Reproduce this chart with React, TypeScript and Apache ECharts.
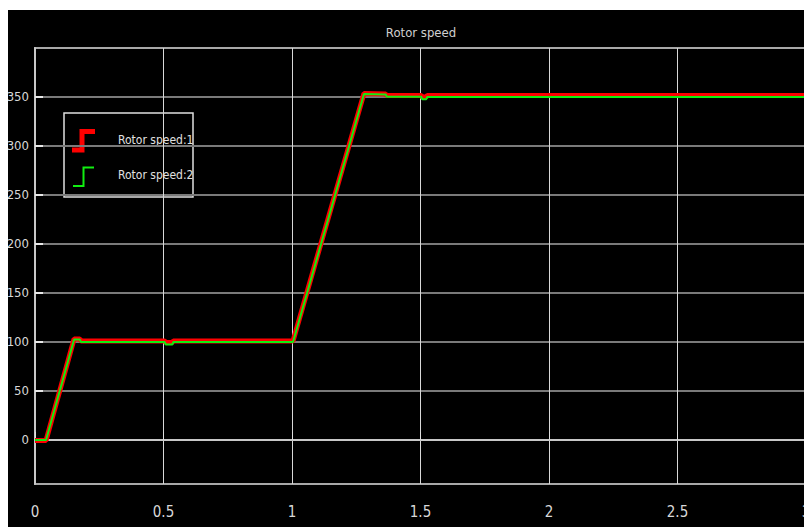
import React, { useEffect, useRef } from "react";
import * as echarts from "echarts";

// time (s)
const timeS = [0, 0.043, 0.152, 0.175, 0.178, 0.505, 0.508, 0.535, 0.538, 1.004, 1.28, 1.365, 1.368, 1.503, 1.507, 1.522, 1.526, 3.0];
// Rotor speed:1 (red)
const speed1 = [-0.5, -0.5, 103, 103, 101, 101, 99.5, 99.5, 101, 101, 353.5, 353, 351.5, 351.5, 350, 350, 351.5, 351.5];
// Rotor speed:2 (green)
const speed2 = [0, 0, 102.5, 102.5, 100, 100, 97.5, 97.5, 100, 100, 353, 352.5, 350.3, 350.3, 347.6, 347.6, 350, 350];

const yTickValues = [0, 50, 100, 150, 200, 250, 300, 350];
const seriesNames = ["Rotor speed:1", "Rotor speed:2"];
const titleText = "Rotor speed";

const FONT = "'Liberation Sans Narrow', 'Arial Narrow', 'DejaVu Sans Condensed', sans-serif";

export default function App() {
  const ref = useRef<HTMLDivElement>(null);
  useEffect(() => {
    if (!ref.current) return;
    const chart = echarts.init(ref.current, undefined, { renderer: "svg" });
    const d1 = timeS.map((t, i) => [t, speed1[i]]);
    const d2 = timeS.map((t, i) => [t, speed2[i]]);
    chart.setOption({
      animation: false,
      backgroundColor: "#000",
      grid: {
        left: 27,
        top: 38,
        bottom: 43,
        right: -2,
        outerBoundsMode: "none",
        containLabel: false,
        show: true,
        borderColor: "#a8a8a8",
        borderWidth: 2,
        backgroundColor: "#000",
      },
      xAxis: {
        type: "value",
        min: 0,
        max: 3,
        interval: 0.5,
        axisLine: { show: true, lineStyle: { color: "#c8c8c8", width: 2 } },
        axisTick: { show: true, inside: true, length: 8, lineStyle: { color: "#e0e0e0", width: 1 } },
        axisLabel: { color: "#d8d8d8", fontFamily: FONT, fontSize: 15, margin: 20 },
        splitLine: { show: true, lineStyle: { color: "#d8d8d8", width: 1 } },
      },
      yAxis: {
        type: "value",
        min: -45,
        max: 400,
        axisLine: { show: true, lineStyle: { color: "#c8c8c8", width: 2 } },
        axisTick: {
          show: true,
          inside: true,
          length: 8,
          customValues: yTickValues,
          lineStyle: { color: "#e8e8e8", width: 2 },
        },
        axisLabel: {
          customValues: yTickValues,
          color: "#d8d8d8",
          fontFamily: FONT,
          fontSize: 13,
          margin: 6,
        },
        splitLine: { show: true, lineStyle: { color: "#7a7a7a", width: 2 } },
      },
      series: [
        {
          name: seriesNames[0],
          type: "line",
          data: d1,
          showSymbol: false,
          lineStyle: { color: "#ff0000", width: 5 },
          itemStyle: { color: "#ff0000" },
          z: 2,
        },
        {
          name: seriesNames[1],
          type: "line",
          data: d2,
          showSymbol: false,
          lineStyle: { color: "#11ee11", width: 2 },
          itemStyle: { color: "#11ee11" },
          z: 3,
        },
      ],
      graphic: [
        {
          type: "text",
          x: 413,
          y: 22,
          style: {
            text: titleText,
            fill: "#d0d0d0",
            font: `13px ${FONT}`,
            textAlign: "center",
            textVerticalAlign: "middle",
          },
        },
        {
          type: "group",
          z: 100,
          children: [
            {
              type: "rect",
              shape: { x: 56, y: 103, width: 129, height: 84 },
              style: { fill: "#000", stroke: "#e0e0e0", lineWidth: 1.5 },
            },
            {
              type: "polyline",
              shape: { points: [[64, 140], [74, 140], [74, 121.5], [87, 121.5]] },
              style: { stroke: "#ff0000", lineWidth: 5, fill: null, lineJoin: "miter" },
            },
            {
              type: "polyline",
              shape: { points: [[65, 176], [75.5, 176], [75.5, 157.5], [86, 157.5]] },
              style: { stroke: "#11ee11", lineWidth: 2, fill: null, lineJoin: "miter" },
            },
            {
              type: "text",
              x: 110,
              y: 130,
              style: {
                text: seriesNames[0],
                fill: "#e0e0e0",
                font: `12px ${FONT}`,
                textVerticalAlign: "middle",
              },
            },
            {
              type: "text",
              x: 110,
              y: 165,
              style: {
                text: seriesNames[1],
                fill: "#e0e0e0",
                font: `12px ${FONT}`,
                textVerticalAlign: "middle",
              },
            },
          ],
        },
      ],
    });
    return () => chart.dispose();
  }, []);
  return (
    <div
      ref={ref}
      style={{ position: "absolute", left: 8, top: 10, width: 796, height: 517, background: "#000" }}
    />
  );
}
